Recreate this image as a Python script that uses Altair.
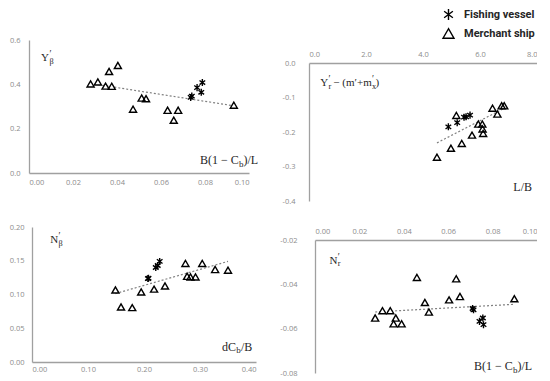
import altair as alt
import pandas as pd

TYPES = ["Fishing vessel", "Merchant ship"]

# Panel 1: Y'_beta vs B(1-Cb)/L
p1_merchant_x = [0.0280, 0.0313, 0.0348, 0.0376, 0.0364, 0.0404, 0.0473, 0.0512, 0.0532, 0.0630, 0.0658, 0.0678, 0.0931]
p1_merchant_y = [0.402, 0.411, 0.392, 0.391, 0.458, 0.485, 0.288, 0.338, 0.335, 0.283, 0.238, 0.283, 0.306]
p1_fishing_x = [0.0735, 0.0740, 0.0764, 0.0783, 0.0788]
p1_fishing_y = [0.341, 0.347, 0.385, 0.364, 0.408]

# Panel 2: Y'_r - (m'+m'_x) vs L/B
p2_merchant_x = [4.49, 4.98, 5.36, 5.17, 5.72, 5.94, 6.08, 6.09, 6.11, 6.44, 6.61, 6.76, 6.85]
p2_merchant_y = [-0.273, -0.247, -0.233, -0.152, -0.209, -0.177, -0.177, -0.191, -0.204, -0.131, -0.148, -0.124, -0.124]
p2_fishing_x = [4.89, 5.20, 5.44, 5.51, 5.65]
p2_fishing_y = [-0.185, -0.173, -0.157, -0.156, -0.151]

# Panel 3: N'_beta vs dCb/B
p3_merchant_x = [0.149, 0.159, 0.179, 0.195, 0.218, 0.2375, 0.274, 0.277, 0.283, 0.292, 0.304, 0.327, 0.350]
p3_merchant_y = [0.1067, 0.0815, 0.0806, 0.1037, 0.108, 0.1126, 0.146, 0.127, 0.126, 0.126, 0.146, 0.137, 0.136]
p3_fishing_x = [0.207, 0.208, 0.221, 0.2245, 0.228]
p3_fishing_y = [0.1236, 0.124, 0.140, 0.143, 0.149]

# Panel 4: N'_r vs B(1-Cb)/L
p4_merchant_x = [0.0271, 0.0304, 0.0339, 0.0364, 0.0354, 0.0390, 0.0459, 0.0495, 0.0513, 0.0604, 0.0636, 0.0653, 0.0898]
p4_merchant_y = [-0.0552, -0.0519, -0.0519, -0.0552, -0.0578, -0.0578, -0.0369, -0.0482, -0.0525, -0.0470, -0.0375, -0.0455, -0.0465]
p4_fishing_x = [0.0710, 0.0714, 0.0741, 0.0756, 0.0759]
p4_fishing_y = [-0.0509, -0.0515, -0.0567, -0.0552, -0.0582]

ASTERISK = "M0,-1L0,1M-0.8,-0.6L0.8,0.6M-0.8,0.6L0.8,-0.6"
SERIF = "Liberation Serif"
TXT = "#262626"

shape_scale = alt.Scale(domain=TYPES, range=[ASTERISK, "triangle-up"])
legend = alt.Legend(
    title=None, orient="none", legendX=434, legendY=-32, padding=0,
    labelFont="Roboto", labelFontWeight="bold", labelFontSize=11, labelColor=TXT,
    symbolSize=120, symbolStrokeColor="black", symbolStrokeWidth=1.4,
    symbolOpacity=1, labelOffset=9, rowPadding=2,
)


def frame(mx, my, fx, fy):
    return pd.DataFrame({
        "x": list(fx) + list(mx),
        "y": list(fy) + list(my),
        "type": [TYPES[0]] * len(fx) + [TYPES[1]] * len(mx),
    })


def txt(s, px, py, align="left", size=11, dy=0):
    return alt.Chart(pd.DataFrame({"t": [s]})).mark_text(
        align=align, baseline="middle", font=SERIF, fontSize=size, color=TXT, dy=dy
    ).encode(x=alt.value(px), y=alt.value(py), text="t:N")


def sub_sup(px, py, sub, sup=None, size=11):
    layers = [txt(sub, px, py, size=size * 0.75, dy=3.5)]
    if sup:
        layers.append(txt(sup, px, py, size=size * 0.85, dy=-4))
    return layers


def axis(orient, values, fmt, pad, extent):
    return alt.Axis(orient=orient, values=values, format=fmt, labelPadding=pad,
                    minExtent=extent, maxExtent=extent,
                    labelExpr="replace(datum.label, '\u2212', '-')")


def panel(df, xdom, ydom, xaxis, yaxis, w, h, labels):
    base = alt.Chart(df)
    x = alt.X("x:Q", scale=alt.Scale(domain=xdom, nice=False, zero=False), axis=xaxis)
    y = alt.Y("y:Q", scale=alt.Scale(domain=ydom, nice=False, zero=False), axis=yaxis)
    trend = base.transform_regression("x", "y").mark_line(
        color="#808080", strokeDash=[2, 2], strokeWidth=1.2
    ).encode(x=x, y=y)
    backs = base.transform_filter(alt.datum.type == TYPES[1]).mark_point(
        shape="triangle-up", filled=True, color="white", size=50, opacity=1
    ).encode(x=x, y=y)
    pts = base.mark_point(filled=False, color="black", strokeWidth=1.4,
                          size=50, opacity=1).encode(
        x=x, y=y, shape=alt.Shape("type:N", scale=shape_scale, legend=legend)
    )
    return alt.layer(trend, backs, pts, *labels).properties(width=w, height=h)


def spacer():
    return alt.Chart(pd.DataFrame({"a": [0]})).mark_point(size=0, opacity=0).encode(
        x=alt.value(0), y=alt.value(0)
    ).properties(width=1, height=1)


def wrap(p):
    return alt.hconcat(spacer(), p, spacing=0)


p1 = panel(
    frame(p1_merchant_x, p1_merchant_y, p1_fishing_x, p1_fishing_y),
    [0, 0.1], [0, 0.6],
    axis("bottom", [0, 0.02, 0.04, 0.06, 0.08, 0.1], ".2f", 5, 16),
    axis("left", [0, 0.2, 0.4, 0.6], ".1f", 9, 19),
    220, 133,
    [txt("Y", 20, 18, align="right"), *sub_sup(20.5, 18, "\u03b2", "\u2032"),
     txt("B(1 \u2212 C", 209.7, 120, align="right", size=12),
     *sub_sup(209.9, 120, "b", size=12),
     txt(")/L", 214.5, 120, size=12)],
)

p2 = panel(
    frame(p2_merchant_x, p2_merchant_y, p2_fishing_x, p2_fishing_y),
    [0, 8], [-0.4, 0],
    axis("top", [0, 2, 4, 6, 8], ".1f", 5, 22),
    axis("left", [0, -0.1, -0.2, -0.3, -0.4], ".1f", 14, 31),
    228, 138,
    [txt("Y", 19.3, 20.3, align="right"), *sub_sup(19.5, 20.3, "r", "\u2032"),
     txt("\u2212 (m\u2032+m", 62.7, 20.3, align="right"),
     *sub_sup(62.9, 20.3, "x", "\u2032"),
     txt(")", 66.5, 20.3),
     txt("L/B", 223, 123.7, align="right", size=12)],
)

p3 = panel(
    frame(p3_merchant_x, p3_merchant_y, p3_fishing_x, p3_fishing_y),
    [0, 0.4], [0, 0.2],
    axis("bottom", [0, 0.1, 0.2, 0.3, 0.4], ".2f", 3, 16),
    axis("left", [0, 0.05, 0.1, 0.15, 0.2], ".2f", 8, 22),
    224, 135,
    [txt("N", 26.3, 13, align="right"), *sub_sup(26.5, 13, "\u03b2", "\u2032"),
     txt("dC", 204, 119.7, align="right", size=12),
     *sub_sup(204.2, 119.7, "b", size=12),
     txt("/B", 209, 119.7, size=12)],
)

p4 = panel(
    frame(p4_merchant_x, p4_merchant_y, p4_fishing_x, p4_fishing_y),
    [0, 0.1], [-0.08, -0.02],
    axis("top", [0, 0.02, 0.04, 0.06, 0.08, 0.1], ".2f", 4.5, 35),
    axis("left", [-0.08, -0.06, -0.04, -0.02], ".2f", 18, 37),
    222, 133,
    [txt("N", 22.5, 20.5, align="right"), *sub_sup(22.7, 20.5, "r", "\u2032"),
     txt("B(1 \u2212 C", 197.7, 126, align="right", size=12),
     *sub_sup(197.9, 126, "b", size=12),
     txt(")/L", 202.5, 126, size=12)],
)

left = alt.vconcat(wrap(p1), wrap(p3), spacing=34)
right = alt.vconcat(spacer(), wrap(p2), wrap(p4), spacing=0)

chart = alt.hconcat(left, right, spacing=18).properties(
    padding=0
).configure_view(stroke=None).configure_axis(
    grid=False, ticks=False, title=None,
    domainColor="#a0a0a0", domainWidth=1.3,
    labelColor="#8c8c8c", labelFont="Open Sans", labelFontSize=7.5,
)

chart.save("out.html", embed_options={"renderer": "svg", "actions": False})
